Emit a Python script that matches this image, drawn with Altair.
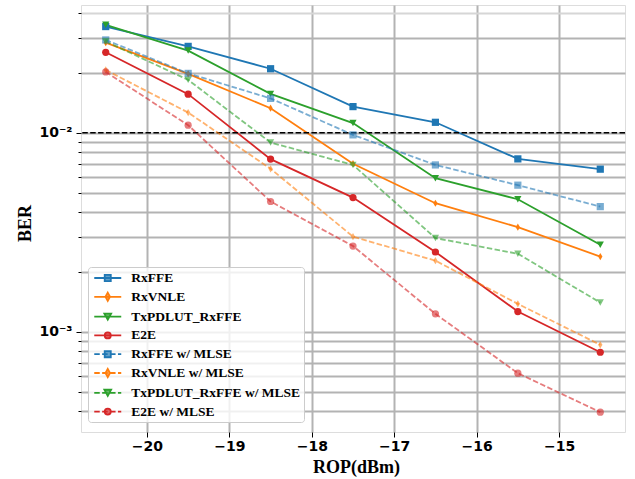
import altair as alt
import pandas as pd

rop = [-20.5, -19.5, -18.5, -17.5, -16.5, -15.5, -14.5]

names = ["RxFFE", "RxVNLE", "TxPDLUT_RxFFE", "E2E",
         "RxFFE w/ MLSE", "RxVNLE w/ MLSE", "TxPDLUT_RxFFE w/ MLSE", "E2E w/ MLSE"]

rxffe = [0.0342, 0.0272, 0.0210, 0.01355, 0.0113, 0.0074, 0.00657]
rxvnle = [0.0284, 0.0198, 0.0133, 0.0070, 0.00443, 0.00336, 0.00239]
txpdlut = [0.0349, 0.0259, 0.0157, 0.0112, 0.00592, 0.00464, 0.00274]
e2e = [0.0254, 0.01565, 0.00738, 0.00473, 0.00252, 0.001265, 0.00079]
rxffe_mlse = [0.0293, 0.0199, 0.0149, 0.00977, 0.0069, 0.00546, 0.00426]
rxvnle_mlse = [0.0207, 0.01265, 0.0066, 0.00301, 0.00228, 0.001383, 0.000861]
txpdlut_mlse = [0.0288, 0.01846, 0.00894, 0.0069, 0.00296, 0.00247, 0.001403]
e2e_mlse = [0.02025, 0.01093, 0.00452, 0.0027, 0.001232, 0.00062, 0.000395]

series_values = [rxffe, rxvnle, txpdlut, e2e, rxffe_mlse, rxvnle_mlse, txpdlut_mlse, e2e_mlse]

colors = ["#1f77b4", "#ff7f0e", "#2ca02c", "#d62728",
          "#1f77b4", "#ff7f0e", "#2ca02c", "#d62728"]
opacities = [1, 1, 1, 1, 0.6, 0.6, 0.6, 0.6]

SQUARE = "square"
DIAMOND = "M0,-1L0.6,0L0,1L-0.6,0Z"
TRIANGLE = "M-1,-0.9L1,-0.9L0,0.9Z"
CIRCLE = "circle"
markers = [SQUARE, DIAMOND, TRIANGLE, CIRCLE] * 2

# legend symbols: line + marker (symbol units: 1 unit = sqrt(182)/2 px)
UNIT = (182 ** 0.5) / 2.0
SOLID_LINE = "M-2,0H2"


def dashed_line():
    dash, gap = 5.5 / UNIT, 2.4 / UNIT
    parts = []
    pos = -2.0
    while pos < 2.0:
        end = min(pos + dash, 2.0)
        parts.append("M%.3f,0H%.3f" % (pos, end))
        pos = end + gap
    return "".join(parts)


DASH_LINE = dashed_line()
MK_SQ = "M-0.45,-0.45H0.45V0.45H-0.45Z"
MK_DI = "M0,-0.62L0.34,0L0,0.62L-0.34,0Z"
MK_TR = "M-0.5,-0.45L0.5,-0.45L0,0.45Z"
MK_CI = "M0.45,0A0.45,0.45,0,1,1,-0.45,0A0.45,0.45,0,1,1,0.45,0Z"
mk = [MK_SQ, MK_DI, MK_TR, MK_CI]
legend_paths = [SOLID_LINE + m for m in mk] + [DASH_LINE + m for m in mk]

y_ticks = [0.0004, 0.0005, 0.0006, 0.0007, 0.0008, 0.0009,
           0.001, 0.002, 0.003, 0.004, 0.005, 0.006, 0.007, 0.008, 0.009,
           0.01, 0.02, 0.03, 0.04]
x_ticks = [-20, -19, -18, -17, -16, -15]

rows = []
for i, name in enumerate(names):
    for xv, yv in zip(rop, series_values[i]):
        rows.append({"x": xv, "y": yv, "series": name, "hex": colors[i],
                     "marker": markers[i], "op": opacities[i],
                     "mlse": 1 if i >= 4 else 0, "order": i})
df = pd.DataFrame(rows)

xscale = alt.Scale(domain=[-20.8, -14.2], nice=False, zero=False)
yscale = alt.Scale(type="log", domain=[3.14e-4, 0.0439], nice=False)

xaxis = alt.Axis(values=x_ticks, title="ROP(dBm)", format="d", grid=True,
                 gridColor="#b3b3b3", gridWidth=2, domain=False,
                 tickSize=5, tickColor="black", labelPadding=2,
                 labelFont="DejaVu Sans", labelFontWeight="bold", labelFontSize=14,
                 labelColor="black",
                 titleFont="Liberation Serif", titleFontWeight="bold", titleFontSize=18,
                 titleColor="black", titleX=275, titleY=40, titleBaseline="alphabetic")

yaxis = alt.Axis(values=y_ticks, title="BER", grid=True,
                 gridColor={"condition": {"test": "datum.value == 0.04", "value": "#d6d6d6"},
                            "value": "#b3b3b3"},
                 gridWidth=2, domain=False,
                 tickSize={"condition": {"test": "datum.value == 0.01 || datum.value == 0.001",
                                         "value": 5}, "value": 3},
                 tickColor="black",
                 labelExpr="datum.value == 0.01 ? '10⁻²' : (datum.value == 0.001 ? '10⁻³' : '')",
                 labelPadding=4, labelFont="DejaVu Sans", labelFontWeight="bold",
                 labelFontSize=14, labelColor="black",
                 titleFont="Liberation Serif", titleFontWeight="bold", titleFontSize=18,
                 titleColor="black", titleX=-51, titleY=218, titleBaseline="alphabetic",
                 titleAngle=270)

base = alt.Chart(df)

threshold = base.mark_rule(color="black", strokeWidth=1.5, strokeDash=[5.5, 2.4]).encode(
    y=alt.datum(0.01, scale=yscale)
).transform_filter("datum.order == 0 && datum.x == -20.5")

solid = base.transform_filter("datum.mlse == 0").mark_line(strokeWidth=1.8).encode(
    x=alt.X("x:Q", scale=xscale, axis=xaxis),
    y=alt.Y("y:Q", scale=yscale, axis=yaxis),
    color=alt.Color("hex:N", scale=None),
    detail="series:N",
    order="x:Q",
)

dashed = base.transform_filter("datum.mlse == 1").mark_line(
    strokeWidth=1.8, strokeDash=[5.5, 2.4], opacity=0.6).encode(
    x=alt.X("x:Q", scale=xscale),
    y=alt.Y("y:Q", scale=yscale),
    color=alt.Color("hex:N", scale=None),
    detail="series:N",
    order="x:Q",
)

points = base.mark_point(filled=True, size=52).encode(
    x=alt.X("x:Q", scale=xscale),
    y=alt.Y("y:Q", scale=yscale),
    color=alt.Color("hex:N", scale=None),
    shape=alt.Shape("marker:N", scale=None),
    opacity=alt.Opacity("op:Q", scale=None),
)

leg = alt.Legend(title=None, orient="none", legendX=7, legendY=262,
                 padding=3, symbolOffset=8.75, labelOffset=15.5, labelLimit=400,
                 symbolSize=182, symbolStrokeWidth=1.8, rowPadding=3.8,
                 labelFont="Liberation Serif", labelFontWeight="bold",
                 labelFontSize=13.5, labelColor="black",
                 fillColor="rgba(255,255,255,0.8)", strokeColor="#cccccc",
                 cornerRadius=3)

legend_layer = base.transform_filter("datum.x > 100").mark_point(filled=True).encode(
    fill=alt.Fill("series:N", scale=alt.Scale(domain=names, range=colors), legend=leg,
                  sort=names),
    stroke=alt.Stroke("series:N", scale=alt.Scale(domain=names, range=colors), legend=leg,
                      sort=names),
    shape=alt.Shape("series:N", scale=alt.Scale(domain=names, range=legend_paths), legend=leg,
                    sort=names),
    opacity=alt.Opacity("series:N", scale=alt.Scale(domain=names, range=opacities),
                        legend=leg, sort=names),
)

chart = alt.layer(solid, threshold, dashed, points, legend_layer).properties(
    width=544, height=427,
    autosize=alt.AutoSizeParams(type="none"),
    padding={"left": 81, "top": 5, "right": 10, "bottom": 47},
).configure_view(stroke="#222222", strokeWidth=1.2).configure(background="white")

chart.save("out.html", embed_options={"renderer": "svg", "actions": False})
